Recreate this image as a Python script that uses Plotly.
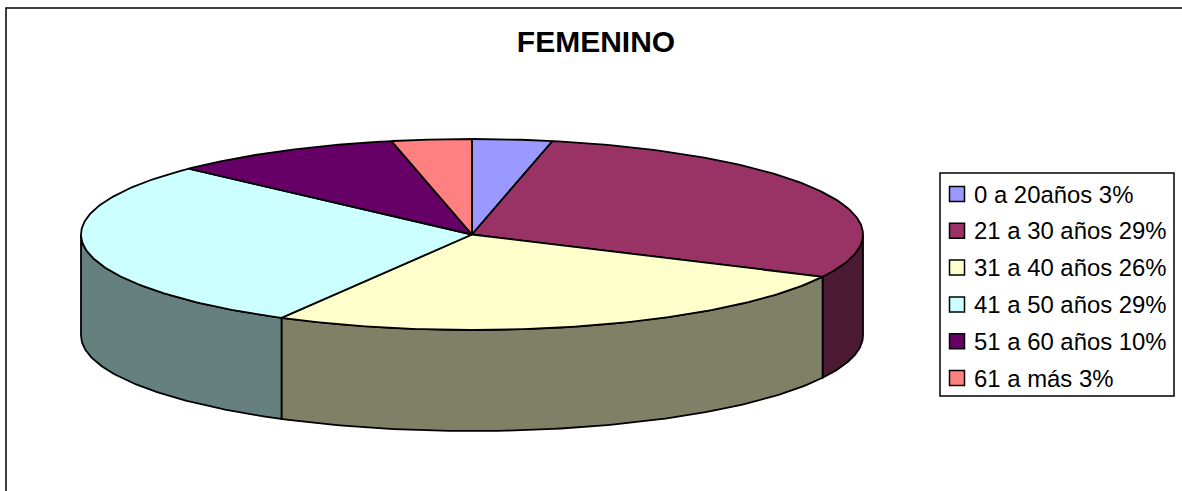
import numpy as np
import plotly.graph_objects as go

TITLE = "FEMENINO"
categories = ["0 a 20años", "21 a 30 años", "31 a 40 años", "41 a 50 años", "51 a 60 años", "61 a más"]
shares = [3.3, 29.0, 25.8, 29.0, 9.6, 3.3]
percent_labels = ["3%", "29%", "26%", "29%", "10%", "3%"]
top_colors = ["#9999FF", "#993366", "#FFFFCC", "#CCFFFF", "#660066", "#FF8080"]
side_colors = ["#4D4D80", "#4D1A33", "#808066", "#668080", "#330033", "#804040"]

W, H = 1182, 491
CX, CY, RX, RY, DEPTH = 472, 234.5, 391, 95.5, 101
LINE_W = 1.8


def pt(deg, dy=0.0):
    t = np.radians(deg)
    return CX + RX * np.sin(t), CY - RY * np.cos(t) + dy


fracs = np.array(shares, dtype=float) / sum(shares)
edges = np.concatenate([[0], np.cumsum(fracs)]) * 360

fig = go.Figure()

# Rim (visible front half only, from 90 to 270 degrees)
for i, name in enumerate(categories):
    a, b = max(edges[i], 90), min(edges[i + 1], 270)
    if a >= b:
        continue
    ts = np.linspace(a, b, 80)
    x1, y1 = pt(ts)
    x2, y2 = pt(ts[::-1], DEPTH)
    fig.add_trace(go.Scatter(
        x=np.concatenate([x1, x2, x1[:1]]), y=np.concatenate([y1, y2, y1[:1]]),
        mode="lines", fill="toself", fillcolor=side_colors[i],
        line=dict(color="black", width=LINE_W), hoverinfo="skip", showlegend=False))

# Top face
for i, name in enumerate(categories):
    ts = np.linspace(edges[i], edges[i + 1], 120)
    x1, y1 = pt(ts)
    fig.add_trace(go.Scatter(
        x=np.concatenate([[CX], x1, [CX]]), y=np.concatenate([[CY], y1, [CY]]),
        mode="lines", fill="toself", fillcolor=top_colors[i], name=name,
        line=dict(color="black", width=LINE_W), hoverinfo="skip", showlegend=False))

# Legend
LEG_X0, LEG_X1, LEG_Y0, LEG_Y1 = 940, 1174, 173, 396
row_y = [LEG_Y0 + 21 + k * 36.8 for k in range(len(categories))]
fig.add_trace(go.Scatter(
    x=[957] * len(categories), y=row_y, mode="markers",
    marker=dict(symbol="square", size=15, color=top_colors, line=dict(color="black", width=1.5)),
    hoverinfo="skip", showlegend=False))

annotations = [
    dict(x=971.5, y=y, xref="x", yref="y", text=f"{c} {p}", showarrow=False, xanchor="left",
         yanchor="middle", font=dict(family="Liberation Sans", size=23.9, color="black"))
    for y, c, p in zip(row_y, categories, percent_labels)
]

shapes = [
    dict(type="rect", x0=6, y0=8, x1=W + 20, y1=H + 20, xref="x", yref="y",
         line=dict(color="black", width=1.5), layer="below"),
    dict(type="rect", x0=LEG_X0, y0=LEG_Y0, x1=LEG_X1, y1=LEG_Y1, xref="x", yref="y",
         line=dict(color="black", width=1.5), layer="below"),
]

fig.update_layout(
    width=W, height=H, margin=dict(l=0, r=0, t=0, b=0, pad=0),
    paper_bgcolor="white", plot_bgcolor="white", showlegend=False,
    title=dict(text=f"<b>{TITLE}</b>", x=596 / W, y=1 - 41 / H, xref="paper", yref="paper",
               xanchor="center", yanchor="middle",
               font=dict(family="Liberation Sans", size=30, color="black")),
    xaxis=dict(range=[0, W], visible=False, fixedrange=True),
    yaxis=dict(range=[H, 0], visible=False, fixedrange=True),
    annotations=annotations, shapes=shapes,
)

fig.write_html("out.html", config={"displayModeBar": False},
               post_script="document.body.style.margin='0';")
